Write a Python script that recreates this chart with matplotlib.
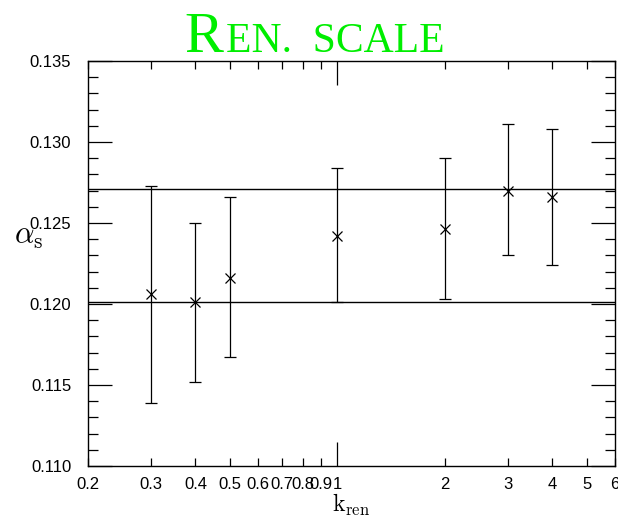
import matplotlib
matplotlib.use("Agg")
import matplotlib.pyplot as plt
from matplotlib.ticker import FixedLocator, FuncFormatter, MultipleLocator

plt.rcParams['mathtext.fontset'] = 'cm'
plt.rcParams['font.family'] = ['Liberation Sans', 'DejaVu Sans']

# data
k_ren = [0.3, 0.4, 0.5, 1.0, 2.0, 3.0, 4.0]
alpha_s = [0.1206, 0.1201, 0.1216, 0.1242, 0.1246, 0.1270, 0.1266]
err_lo = [0.1139, 0.1152, 0.1167, 0.1201, 0.1203, 0.1230, 0.1224]
err_hi = [0.1273, 0.1250, 0.1266, 0.1284, 0.1290, 0.1311, 0.1308]
band = [0.1201, 0.1271]
xtick_vals = [0.2, 0.3, 0.4, 0.5, 0.6, 0.7, 0.8, 0.9, 1, 2, 3, 4, 5, 6]

yerr = [[a - l for a, l in zip(alpha_s, err_lo)],
        [h - a for a, h in zip(alpha_s, err_hi)]]

fig = plt.figure(figsize=(6.18, 5.20), dpi=100)
ax = fig.add_axes([0.1424, 0.1038, 0.8527, 0.7789])

ax.errorbar(k_ren, alpha_s, yerr=yerr, fmt='x', color='black', ms=7, mew=0.9,
            elinewidth=0.9, capsize=4, capthick=0.9)
for b in band:
    ax.axhline(b, color='black', lw=1.0)

ax.set_xscale('log')
ax.set_xlim(0.2, 6)
ax.set_ylim(0.110, 0.135)

ax.xaxis.set_major_locator(FixedLocator([1]))
ax.xaxis.set_minor_locator(FixedLocator([v for v in xtick_vals if v != 1]))
fmt = FuncFormatter(lambda v, p: ('%g' % v))
ax.xaxis.set_major_formatter(fmt)
ax.xaxis.set_minor_formatter(fmt)

ax.yaxis.set_major_locator(MultipleLocator(0.005))
ax.yaxis.set_minor_locator(MultipleLocator(0.001))
ax.yaxis.set_major_formatter(FuncFormatter(lambda v, p: '%.3f' % v))

ax.tick_params(which='both', direction='in', top=True, right=True, labelsize=12, width=0.9)
ax.tick_params(which='major', length=17)
ax.tick_params(which='minor', length=7)
ax.tick_params(axis='x', which='minor', length=6, pad=8)
ax.tick_params(axis='x', which='major', pad=8)
ax.tick_params(axis='y', which='both', pad=12)
for s in ax.spines.values():
    s.set_linewidth(1.0)

ax.set_xlabel(r'$\mathrm{k_{ren}}$', fontsize=17, labelpad=0)
ax.set_ylabel(r'$\alpha_{\mathrm{s}}$', fontsize=22, rotation=0, labelpad=14)
ax.yaxis.set_label_coords(-0.112, 0.53)

# small-caps title
green = '#00ee00'
fig.text(0.298, 0.9, 'R', fontsize=42, color=green, family='Liberation Serif', ha='left', va='baseline')
fig.text(0.365, 0.9, 'EN.  SCALE', fontsize=30, color=green, family='Liberation Serif', ha='left', va='baseline')

fig.savefig('out.png', dpi=100)
